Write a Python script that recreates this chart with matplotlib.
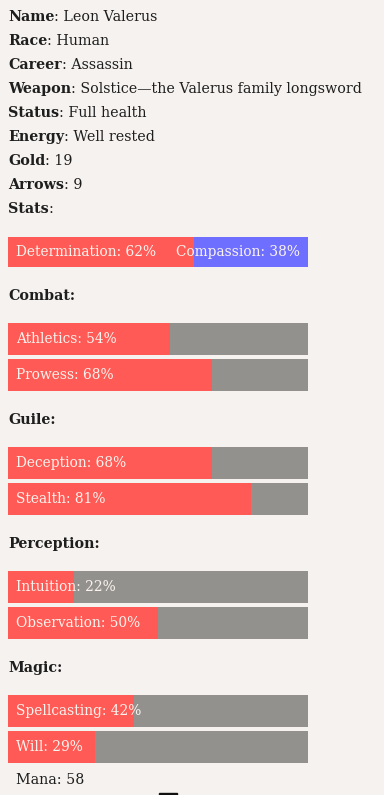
import matplotlib.pyplot as plt
from matplotlib.patches import Rectangle

# character sheet
info_keys = ["Name", "Race", "Career", "Weapon", "Status", "Energy", "Gold", "Arrows", "Stats"]
info_vals = ["Leon Valerus", "Human", "Assassin", "Solstice\u2014the Valerus family longsword",
             "Full health", "Well rested", "19", "9", ""]

# opposed stat
left_name, right_name = "Determination", "Compassion"
left_pct = 62

groups = ["Combat", "Guile", "Perception", "Magic"]
skills = [["Athletics", "Prowess"], ["Deception", "Stealth"],
          ["Intuition", "Observation"], ["Spellcasting", "Will"]]
skill_pct = [[54, 68], [68, 81], [22, 50], [42, 29]]
mana = 58

bg = "#f6f2ef"
red = "#ff5a55"
grey = "#93918e"
blue = "#6f6fff"
ink = "#1e1e1e"
light = "#fbf3ee"
font = ["DejaVu Serif"]
fs = 10.25
fs_bar = 9.9

W, H = 384, 795
fig = plt.figure(figsize=(W / 100, H / 100), dpi=100, facecolor=bg)
ax = fig.add_axes([0, 0, 1, 1])
ax.set_xlim(0, W)
ax.set_ylim(H, 0)
ax.axis("off")

x0, bw, bh = 8, 300, 32

# header lines
for i, (k, v) in enumerate(zip(info_keys, info_vals)):
    y = 17 + 24 * i
    t = ax.text(x0, y, k, family=font, fontsize=fs, fontweight="bold", color=ink, va="center")
    ax.annotate(": " + v, xy=(1, 0.5), xycoords=t, va="center", ha="left",
                family=font, fontsize=fs, color=ink)

# determination / compassion
ax.barh(252, left_pct * bw / 100, left=x0, height=30, color=red)
ax.barh(252, (100 - left_pct) * bw / 100, left=x0 + left_pct * bw / 100, height=30, color=blue)
ax.text(16, 252, f"{left_name}: {left_pct}%", family=font, fontsize=fs_bar, color=light, va="center")
ax.text(x0 + bw - 8, 252, f"{right_name}: {100 - left_pct}%", family=font, fontsize=fs_bar,
        color=light, va="center", ha="right")

# skill groups
for g, (name, sk, pc) in enumerate(zip(groups, skills, skill_pct)):
    top = 296 + 124 * g
    ax.text(x0, top, name + ":", family=font, fontsize=fs, fontweight="bold", color=ink, va="center")
    for j, (s, p) in enumerate(zip(sk, pc)):
        yc = top + 43 + 36 * j
        ax.barh(yc, bw, left=x0, height=bh, color=grey)
        ax.barh(yc, p * bw / 100, left=x0, height=bh, color=red)
        ax.text(16, yc, f"{s}: {p}%", family=font, fontsize=fs_bar, color=light, va="center")

ax.text(16, 780, f"Mana: {mana}", family=font, fontsize=fs, color=ink, va="center")
ax.add_patch(Rectangle((159, 793), 18, 3, color="#111111"))

fig.savefig("out.png", dpi=100, facecolor=bg)
